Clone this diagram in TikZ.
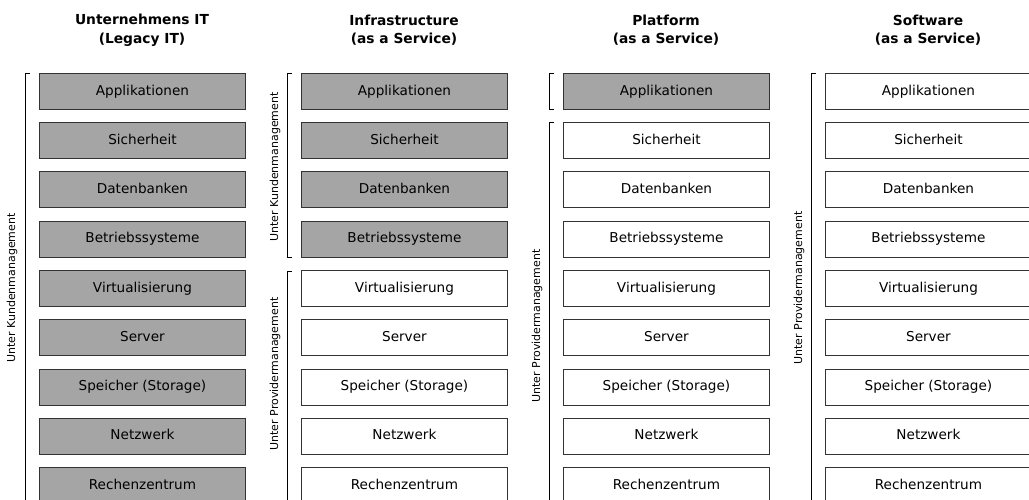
\documentclass[tikz,border=0pt]{standalone}
\usepackage{fontspec}
\setmainfont{DejaVu Sans}
\definecolor{boxgray}{HTML}{A5A5A5}
\definecolor{edge}{HTML}{333333}
\begin{document}
\begin{tikzpicture}[x=1pt,y=-1pt,
  layer/.style={draw=edge,line width=0.9pt,minimum width=206pt,minimum height=36pt,anchor=north west,inner sep=0pt,font=\fontsize{13.6}{16}\selectfont},
  cust/.style={layer,fill=boxgray},
  prov/.style={layer,fill=white},
  title/.style={font=\bfseries\fontsize{13.8}{18.5}\selectfont,align=center},
  brk/.style={draw=black,line width=0.8pt},
  side/.style={rotate=90,font=\fontsize{11}{13}\selectfont}]
\useasboundingbox (0,0) rectangle (1029,500);
\clip (0,0) rectangle (1029,500);
\def\names{{"Applikationen","Sicherheit","Datenbanken","Betriebssysteme","Virtualisierung","Server","Speicher (Storage)","Netzwerk","Rechenzentrum"}}
% columns: left x and number of customer-managed layers
\foreach \c/\x/\n in {1/39/9,2/301/4,3/563/1,4/825/0}{
  \foreach \r in {0,...,8}{
    \pgfmathsetmacro\yy{73+49.25*\r}
    \pgfmathparse{\names[\r]}\let\lbl\pgfmathresult
    \ifnum\r<\n
      \node[cust] (b\c-\r) at (\x,\yy) {\lbl\vphantom{g}};
    \else
      \node[prov] (b\c-\r) at (\x,\yy) {\lbl\vphantom{g}};
    \fi
  }
}
% titles
\node[title] (t1) at (142,30) {Unternehmens IT\\(Legacy IT)};
\node[title] (t2) at (404,30) {Infrastructure\\(as a Service)};
\node[title] (t3) at (666,30) {Platform\\(as a Service)};
\node[title] (t4) at (928,30) {Software\\(as a Service)};
% brackets
\draw[brk] (30,73) -- (25,73) -- (25,503);
\node[side] (s1) at (12,288) {Unter Kundenmanagement};
\draw[brk] (292,73) -- (287,73) -- (287,257) -- (292,257);
\node[side] (s2) at (275,167) {Unter Kundenmanagement};
\draw[brk] (292,271) -- (287,271) -- (287,503);
\node[side] (s3) at (275,374) {Unter Providermanagement};
\draw[brk] (554,73) -- (549,73) -- (549,109) -- (554,109);
\draw[brk] (554,122) -- (549,122) -- (549,503);
\node[side] (s4) at (537,326) {Unter Providermanagement};
\draw[brk] (816,73) -- (811,73) -- (811,503);
\node[side] (s5) at (799,288) {Unter Providermanagement};
\end{tikzpicture}
\end{document}
